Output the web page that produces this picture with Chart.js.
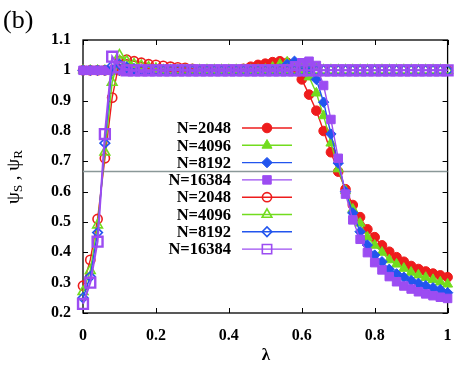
<!DOCTYPE html>
<html><head><meta charset="utf-8">
<script src="https://cdn.jsdelivr.net/npm/chart.js@4.4.1/dist/chart.umd.min.js"></script>
<style>html,body{margin:0;padding:0;background:#fff;}#wrap{width:457px;height:368px;}</style>
</head><body><div id="wrap"><canvas id="c" width="457" height="368"></canvas></div>
<script>
const lambda = [0,0.02,0.04,0.06,0.08,0.10,0.12,0.14,0.16,0.18,0.20,0.22,0.24,0.26,0.28,0.30,0.32,0.34,0.36,0.38,0.40,0.42,0.44,0.46,0.48,0.50,0.52,0.54,0.56,0.58,0.60,0.62,0.64,0.66,0.68,0.70,0.72,0.74,0.76,0.78,0.80,0.82,0.84,0.86,0.88,0.90,0.92,0.94,0.96,0.98,1.00];

// psi_S (filled symbols)
const psiS_2048 = [1,1,1,1,1,1,1,1,1,1,1,1,1,1,1,1,1,1,1,1,1,1,1.005,1.012,1.018,1.022,1.027,1.03,1.025,1.005,0.97,0.92,0.867,0.80,0.73,0.666,0.608,0.556,0.516,0.476,0.45,0.423,0.402,0.384,0.369,0.355,0.345,0.337,0.33,0.324,0.318];
const psiS_4096 = [1,1,1,1,1,1,1,1,1,1,1,1,1,1,1,1,1,1,1,1,1,1,1,1,1,1.003,1.01,1.02,1.027,1.02,1.0,0.978,0.925,0.85,0.76,0.675,0.603,0.542,0.496,0.45,0.423,0.40,0.375,0.361,0.347,0.334,0.325,0.317,0.31,0.302,0.295];
const psiS_8192 = [1,1,1,1,1,1,1,1,1,1,1,1,1,1,1,1,1,1,1,1,1,1,1,1,1,1,1,1.005,1.02,1.03,1.02,1.0,0.97,0.895,0.79,0.694,0.60,0.53,0.468,0.424,0.391,0.369,0.344,0.329,0.318,0.307,0.298,0.29,0.283,0.277,0.267];
const psiS_16384 = [1,1,1,1,1,1,1,1,1,1,1,1,1,1,1,1,1,1,1,1,1,1,1,1,1,1,1,1,1.005,1.015,1.025,1.03,1.016,0.95,0.838,0.71,0.592,0.507,0.443,0.399,0.366,0.342,0.32,0.303,0.289,0.279,0.27,0.263,0.257,0.252,0.248];

// psi_R (open symbols)
const psiR_2048 = [0.29,0.375,0.51,0.71,0.91,1.03,1.035,1.03,1.025,1.02,1.018,1.015,1.012,1.01,1.008,1.005,1,1,1,1,1,1,1,1,1,1,1,1,1,1,1,1,1,1,1,1,1,1,1,1,1,1,1,1,1,1,1,1,1,1,1];
const psiR_4096 = [0.27,0.34,0.49,0.73,0.96,1.05,1.03,1.02,1.015,1.01,1.005,1,1,1,1,1,1,1,1,1,1,1,1,1,1,1,1,1,1,1,1,1,1,1,1,1,1,1,1,1,1,1,1,1,1,1,1,1,1,1,1];
const psiR_8192 = [0.25,0.32,0.465,0.76,1.015,1.02,1.01,1.005,1,1,1,1,1,1,1,1,1,1,1,1,1,1,1,1,1,1,1,1,1,1,1,1,1,1,1,1,1,1,1,1,1,1,1,1,1,1,1,1,1,1,1];
const psiR_16384 = [0.23,0.30,0.435,0.79,1.045,1.01,1,1,1,1,1,1,1,1,1,1,1,1,1,1,1,1,1,1,1,1,1,1,1,1,1,1,1,1,1,1,1,1,1,1,1,1,1,1,1,1,1,1,1,1,1];

const thresholdX = [0, 1];
const thresholdY = [0.6667, 0.6667];

const seriesNames = ['N=2048','N=4096','N=8192','N=16384'];
const xTicks = [0,0.2,0.4,0.6,0.8,1];
const xTickLabels = ['0','0.2','0.4','0.6','0.8','1'];
const yTicks = [0.2,0.3,0.4,0.5,0.6,0.7,0.8,0.9,1.0,1.1];
const yTickLabels = ['0.2','0.3','0.4','0.5','0.6','0.7','0.8','0.9','1','1.1'];

const colors = ['#ee1c1c','#72dc1e','#2255ee','#9c4cf2'];
const shapes = ['circle','triangle','rectRot','rect'];
const filledRadius = [4.8,5.8,5.2,6.0];
const openRadius = [4.6,5.6,4.8,7.0];
const openBW = [1.6,1.6,1.6,2.4];
const SERIF = "'Liberation Serif','Times New Roman',serif";

const sSeries = [psiS_2048, psiS_4096, psiS_8192, psiS_16384];
const rSeries = [psiR_2048, psiR_4096, psiR_8192, psiR_16384];

function pts(arr){ return lambda.map((x,i)=>({x:x,y:arr[i]})); }

const datasets = [];
datasets.push({
  label:'threshold', data: thresholdX.map((x,i)=>({x:x,y:thresholdY[i]})),
  borderColor:'#8a9898', borderWidth:1.6, pointRadius:0, showLine:true, order:100, clip:false
});
let ord = 50;
sSeries.forEach((arr,k)=>{
  datasets.push({label:seriesNames[k], data:pts(arr), showLine:true,
    borderColor:colors[k], backgroundColor:colors[k], borderWidth:1.4,
    pointStyle:shapes[k], pointRadius:filledRadius[k], pointBorderWidth:1,
    pointBackgroundColor:colors[k], pointBorderColor:colors[k], order:ord--, clip:false});
});
rSeries.forEach((arr,k)=>{
  datasets.push({label:seriesNames[k], data:pts(arr), showLine:true,
    borderColor:colors[k], backgroundColor:'rgba(0,0,0,0)', borderWidth:k===3?2:1.4,
    pointStyle:shapes[k], pointRadius:openRadius[k], pointBorderWidth:openBW[k],
    pointBackgroundColor:'rgba(0,0,0,0)', pointBorderColor:colors[k], order:ord--, clip:false});
});

function drawMarker(ctx, shape, r, x, y, fill, color, bw){
  if (Chart.helpers && Chart.helpers.drawPoint){
    ctx.save();
    ctx.fillStyle = fill ? color : 'rgba(0,0,0,0)';
    ctx.strokeStyle = color; ctx.lineWidth = bw;
    Chart.helpers.drawPoint(ctx, {pointStyle:shape, radius:r, rotation:0, borderWidth:bw}, x, y);
    ctx.restore();
    return;
  }
  ctx.save(); ctx.beginPath();
  if (shape==='circle') ctx.arc(x,y,r,0,Math.PI*2);
  else if (shape==='triangle'){ for(let i=0;i<3;i++){const a=i*2*Math.PI/3; const px=x+Math.sin(a)*r, py=y-Math.cos(a)*r; i?ctx.lineTo(px,py):ctx.moveTo(px,py);} ctx.closePath(); }
  else if (shape==='rectRot'){ ctx.moveTo(x,y-r); ctx.lineTo(x+r,y); ctx.lineTo(x,y+r); ctx.lineTo(x-r,y); ctx.closePath(); }
  else { const s=Math.SQRT1_2*r; ctx.rect(x-s,y-s,2*s,2*s); }
  if (fill){ctx.fillStyle=color; ctx.fill();}
  ctx.strokeStyle=color; ctx.lineWidth=bw; ctx.stroke(); ctx.restore();
}

const framePlugin = {
  id:'frame',
  beforeDatasetsDraw(chart){
    const {ctx, chartArea:a, scales:{x,y}} = chart;
    ctx.save();
    ctx.strokeStyle='#000'; ctx.lineWidth=1.3;
    ctx.strokeRect(a.left, a.top, a.right-a.left, a.bottom-a.top);
    ctx.lineWidth=1;
    ctx.beginPath();
    xTicks.forEach(v=>{ const px=Math.round(x.getPixelForValue(v))+0.5;
      ctx.moveTo(px,a.bottom); ctx.lineTo(px,a.bottom-5);
      ctx.moveTo(px,a.top); ctx.lineTo(px,a.top+5); });
    yTicks.forEach(v=>{ const py=Math.round(y.getPixelForValue(v))+0.5;
      ctx.moveTo(a.left,py); ctx.lineTo(a.left+5,py);
      ctx.moveTo(a.right,py); ctx.lineTo(a.right-5,py); });
    ctx.stroke();
    ctx.restore();
  },
  afterDatasetsDraw(chart){
    const ctx = chart.ctx;
    ctx.save();
    ctx.font = 'bold 16.5px '+SERIF;
    ctx.textAlign='right'; ctx.textBaseline='middle'; ctx.fillStyle='#000';
    const rowY0 = 128, dy = 17.3;
    for (let g=0; g<2; g++){
      for (let k=0;k<4;k++){
        const yy = rowY0 + (g*4+k)*dy;
        ctx.fillStyle='#000';
        ctx.fillText(seriesNames[k], 231, yy+1);
        ctx.strokeStyle=colors[k]; ctx.lineWidth=1.4;
        ctx.beginPath(); ctx.moveTo(242,yy); ctx.lineTo(292,yy); ctx.stroke();
        if (g===0) drawMarker(ctx, shapes[k], filledRadius[k], 267, yy, true, colors[k], 1);
        else drawMarker(ctx, shapes[k], k===3 ? 6.6 : openRadius[k], 267, yy, false, colors[k], 1.6);
      }
    }
    ctx.restore();
  },
  afterDraw(chart){
    const ctx = chart.ctx;
    ctx.save();
    ctx.fillStyle='#000';
    ctx.font = '26px '+SERIF; ctx.textAlign='left'; ctx.textBaseline='alphabetic';
    ctx.fillText('(b)', 3, 28);
    ctx.font = 'bold 17px '+SERIF; ctx.textAlign='center'; ctx.textBaseline='middle';
    ctx.fillText('λ', 266, 356);
    // y title
    ctx.translate(19, 204); ctx.rotate(-Math.PI/2);
    ctx.textAlign='left'; ctx.textBaseline='alphabetic';
    let u = 0;
    const big = '19px '+SERIF, small = '13px '+SERIF;
    const parts = [['ψ',big,0],['S',small,3],[' , ',big,0],['ψ',big,0],['R',small,3]];
    parts.forEach(p=>{ ctx.font=p[1]; ctx.fillText(p[0], u, p[2]); u += ctx.measureText(p[0]).width; });
    ctx.restore();
  }
};

new Chart(document.getElementById('c'), {
  type:'scatter',
  data:{datasets:datasets},
  options:{
    responsive:false, animation:false, devicePixelRatio:1,
    layout:{padding:{top:40,right:6,left:0,bottom:0}},
    plugins:{legend:{display:false}, tooltip:{enabled:false}, title:{display:false}},
    scales:{
      x:{type:'linear', min:0, max:1,
        afterBuildTicks:s=>{ s.ticks = xTicks.map(v=>({value:v})); },
        afterFit:s=>{ s.height = 55; s.paddingLeft = 0; s.paddingRight = 0; },
        grid:{display:false, drawTicks:false, tickLength:0}, border:{display:false},
        ticks:{autoSkip:false, maxRotation:0, padding:13, color:'#000',
          font:{family:SERIF, size:16, weight:'bold'},
          callback:(v,i)=>xTickLabels[i]}},
      y:{type:'linear', min:0.2, max:1.1,
        afterBuildTicks:s=>{ s.ticks = yTicks.map(v=>({value:v})); },
        afterFit:s=>{ s.width = 83; s.paddingTop = 0; s.paddingBottom = 0; },
        grid:{display:false, drawTicks:false, tickLength:0}, border:{display:false},
        ticks:{autoSkip:false, padding:12, color:'#000',
          font:{family:SERIF, size:16, weight:'bold'},
          callback:(v,i)=>yTickLabels[i]}}
    }
  },
  plugins:[framePlugin]
});
</script></body></html>
